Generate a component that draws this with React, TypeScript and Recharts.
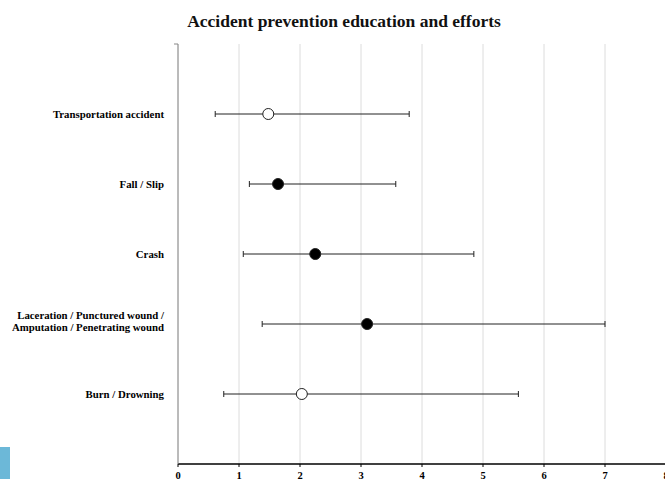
import { ScatterChart, Scatter, XAxis, YAxis, CartesianGrid, ErrorBar } from "recharts";

const categories = [
  "Transportation accident",
  "Fall / Slip",
  "Crash",
  "Laceration / Punctured wound /\nAmputation / Penetrating wound",
  "Burn / Drowning",
];
const means = [1.48, 1.64, 2.25, 3.1, 2.03];
const lows = [0.61, 1.17, 1.07, 1.38, 0.75];
const highs = [3.79, 3.57, 4.85, 7.0, 5.58];
const filled = [false, true, true, true, false];
const xTicks = [0, 1, 2, 3, 4, 5, 6, 7, 8];

const SERIF = '"Liberation Serif", "Times New Roman", serif';

const data = categories.map((name, i) => ({
  name,
  x: means[i],
  y: categories.length - i,
  err: [means[i] - lows[i], highs[i] - means[i]],
  filled: filled[i],
}));

function CategoryTick(props: any) {
  const { x, y, payload } = props;
  const v = payload.value;
  if (v > categories.length) {
    return <line x1={x + 10} x2={x + 14} y1={y} y2={y} stroke="#888" />;
  }
  const label = categories[categories.length - v];
  const lines = label.split("\n");
  const lh = 12;
  const startDy = lines.length > 1 ? -9 : 0;
  return (
    <text
      x={x}
      y={y}
      textAnchor="end"
      fontFamily={SERIF}
      fontWeight="bold"
      fontSize={10.8}
      fill="#000"
      dominantBaseline="central"
    >
      {lines.map((l: string, i: number) => (
        <tspan key={i} x={x} dy={i === 0 ? startDy : lh}>
          {l}
        </tspan>
      ))}
    </text>
  );
}

function Dot(props: any) {
  const { cx, cy, payload } = props;
  return (
    <circle
      cx={cx}
      cy={cy}
      r={5.5}
      fill={payload.filled ? "#000" : "#fff"}
      stroke="#222"
      strokeWidth={1}
    />
  );
}

export default function App() {
  return (
    <div
      style={{
        position: "fixed",
        left: 0,
        top: 0,
        width: 665,
        height: 479,
        overflow: "hidden",
        background: "#fff",
      }}
    >
      <div
        style={{
          position: "absolute",
          left: 0,
          width: 688,
          top: 11,
          textAlign: "center",
          fontFamily: SERIF,
          fontWeight: "bold",
          fontSize: 17.5,
          color: "#111",
        }}
      >
        Accident prevention education and efforts
      </div>
      <div style={{ position: "absolute", left: 0, top: 447, width: 10, height: 32, background: "#6cb8d8" }} />
      <div style={{ position: "absolute", left: 0, top: 0 }}>
        <ScatterChart width={680} height={500} margin={{ top: 44, right: 14, bottom: 0, left: 0 }}>
          <CartesianGrid horizontal={false} stroke="#dcdcdc" />
          <XAxis
            type="number"
            dataKey="x"
            domain={[0, 8]}
            ticks={xTicks}
            interval={0}
            height={36}
            axisLine={{ stroke: "#000", strokeWidth: 1.5 }}
            tickLine={{ stroke: "#000" }}
            tickSize={3}
            tickMargin={5}
            tick={{ fontFamily: SERIF, fontWeight: "bold", fontSize: 10.5, fill: "#000" }}
          />
          <YAxis
            type="number"
            dataKey="y"
            domain={[0, 6]}
            ticks={[1, 2, 3, 4, 5, 6]}
            interval={0}
            width={178}
            axisLine={{ stroke: "#888" }}
            tickLine={false}
            tickSize={0}
            tickMargin={14}
            tick={<CategoryTick />}
          />
          <Scatter data={data} shape={<Dot />} isAnimationActive={false}>
            <ErrorBar dataKey="err" direction="x" width={3} stroke="#222" strokeWidth={1} />
          </Scatter>
        </ScatterChart>
      </div>
    </div>
  );
}
